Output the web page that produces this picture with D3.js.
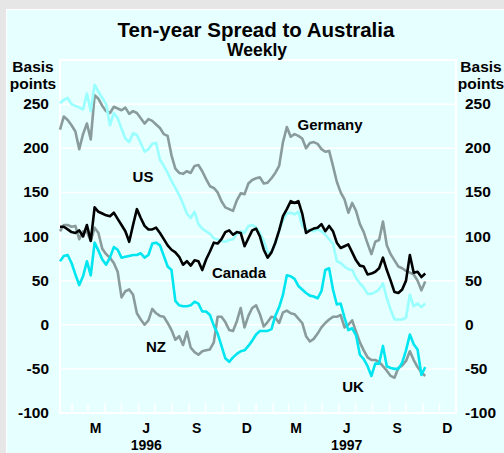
<!DOCTYPE html>
<html>
<head>
<meta charset="utf-8">
<script src="https://cdn.jsdelivr.net/npm/d3@7"></script>
<style>
  html, body { margin: 0; padding: 0; background: #e6e6e6; }
  svg { display: block; }
  text { font-family: "Liberation Sans", Arial, Helvetica, sans-serif; font-weight: bold; fill: #000; }
</style>
</head>
<body>
<script>
'use strict';

// weekly observations, basis points
var firstWeek = new Date(1996, 0, 10);

var us = [251, 255, 257, 250, 248, 246, 244, 262, 242, 272, 264, 257, 250, 226, 240, 234,
    222, 211, 207, 217, 215, 206, 196, 199, 205, 206, 187, 180, 172, 163, 155, 147,
    137, 126, 121, 128, 114, 109, 106, 103, 98, 97, 95, 94, 96, 97, 103, 106,
    104, 112, 113, 110, 104, 95, 82, 82, 92, 107, 119, 126, 127, 125, 128, 112,
    108, 107, 106, 108, 106, 102, 97, 92, 72, 70, 66, 63, 62, 53, 47, 42,
    35, 35, 37, 40, 47, 30, 17, 6, 6, 6, 8, 34, 21, 24, 20, 24];

var germany = [221, 236, 232, 226, 219, 199, 216, 228, 210, 260, 256, 248, 242, 240, 247, 245,
    243, 246, 239, 242, 240, 234, 228, 233, 231, 227, 223, 216, 214, 192, 177, 172,
    171, 174, 172, 180, 181, 174, 165, 157, 155, 150, 140, 133, 131, 129, 141, 149,
    148, 160, 164, 166, 167, 160, 161, 166, 172, 180, 207, 224, 213, 216, 214, 211,
    200, 206, 207, 205, 199, 196, 197, 180, 162, 150, 142, 127, 138, 129, 114, 105,
    92, 80, 94, 96, 117, 90, 80, 73, 66, 64, 61, 59, 57, 50, 39, 49];

var canada = [111, 111, 108, 105, 104, 107, 100, 113, 95, 133, 128, 126, 124, 123, 127, 120,
    113, 106, 94, 113, 131, 121, 112, 108, 108, 110, 104, 97, 90, 85, 82, 77,
    68, 72, 67, 73, 72, 62, 74, 83, 93, 92, 97, 105, 107, 102, 105, 104,
    89, 98, 107, 109, 100, 85, 76, 82, 93, 107, 123, 131, 140, 138, 140, 126,
    104, 107, 109, 110, 114, 106, 112, 106, 93, 87, 89, 91, 82, 73, 67, 66,
    57, 58, 60, 64, 76, 62, 50, 37, 36, 40, 50, 79, 59, 60, 54, 58];

var nz = [106, 113, 113, 111, 112, 97, 106, 105, 95, 110, 104, 86, 80, 76, 70, 60,
    31, 38, 40, 34, 13, 6, 0, 5, 18, 13, 10, 9, 2, -6, -17, -13,
    -23, -8, -26, -31, -34, -30, -29, -28, -20, 9, 9, 3, -6, -7, 4, 19,
    -3, 10, 19, 22, 12, -2, 3, 9, 8, 2, 14, 16, 13, 12, 7, 2,
    -13, -19, -16, -10, -3, 2, 6, 9, 9, 11, -3, 0, 5, -8, -20, -29,
    -37, -40, -40, -42, -47, -52, -58, -60, -49, -46, -41, -30, -40, -48, -54, -58];

var uk = [72, 78, 79, 70, 57, 45, 55, 72, 56, 93, 84, 74, 68, 76, 88, 85,
    76, 77, 78, 79, 79, 81, 76, 79, 92, 93, 90, 78, 66, 62, 27, 22,
    21, 21, 22, 26, 24, 15, 15, 11, -1, -10, -24, -38, -42, -37, -33, -30,
    -29, -24, -18, -11, -7, -7, -7, -5, 10, 20, 34, 56, 55, 52, 44, 40,
    36, 33, 32, 30, 38, 62, 64, 40, 23, 24, 8, -6, -4, -12, -34, -39,
    -47, -58, -44, -44, -24, -47, -49, -50, -50, -43, -29, -11, -22, -28, -57, -48];

var seriesNames = ['Germany', 'US', 'NZ', 'UK', 'Canada'];
var seriesValues = [germany, us, nz, uk, canada];
var seriesColors = ['#8a9b9b', '#99ffff', '#8a9b9b', '#00e6f0', '#000000'];

var yTicks = [-100, -50, 0, 50, 100, 150, 200, 250];
var quarterLabels = ['M', 'J', 'S', 'D', 'M', 'J', 'S', 'D'];
var quarterMonths = [new Date(1996, 2, 1), new Date(1996, 5, 1), new Date(1996, 8, 1), new Date(1996, 11, 1),
    new Date(1997, 2, 1), new Date(1997, 5, 1), new Date(1997, 8, 1), new Date(1997, 11, 1)];
var yearLabels = ['1996', '1997'];
var yearMonths = [new Date(1996, 5, 1), new Date(1997, 5, 1)];

var labelText = ['US', 'Germany', 'Canada', 'NZ', 'UK'];
var labelAt = [[143, 182], [330, 130], [239, 278], [156, 352], [353, 392]];

var width = 504;
var height = 453;
var plot = { left: 60, right: 456, top: 60, bottom: 413 };

var dates = us.map(function (d, i) { return d3.timeDay.offset(firstWeek, 7 * i); });

var x = d3.scaleTime()
    .domain([new Date(1996, 0, 10), new Date(1997, 11, 31)])
    .range([plot.left, plot.right]);

var y = d3.scaleLinear()
    .domain([-100, 300])
    .range([plot.bottom, plot.top]);

var svg = d3.select('body').append('svg')
    .attr('width', width)
    .attr('height', height);

svg.append('rect')
    .attr('width', width).attr('height', height)
    .attr('fill', '#e6e6e6');

svg.append('rect')
    .attr('x', 6.5).attr('y', 9.5)
    .attr('width', width).attr('height', height)
    .attr('fill', '#e6ffff')
    .attr('stroke', '#ffffff');

// grid
svg.append('g')
    .selectAll('line')
    .data(d3.range(-50, 301, 50))
    .enter().append('line')
    .attr('x1', plot.left).attr('x2', plot.right)
    .attr('y1', function (d) { return y(d); })
    .attr('y2', function (d) { return y(d); })
    .attr('stroke', '#ffffff')
    .attr('stroke-width', 1.5);

svg.append('rect')
    .attr('x', plot.left).attr('y', plot.top)
    .attr('width', plot.right - plot.left)
    .attr('height', plot.bottom - plot.top)
    .attr('fill', 'none')
    .attr('stroke', '#ffffff')
    .attr('stroke-width', 2);

// month ticks
svg.append('g')
    .selectAll('line')
    .data(d3.timeMonth.range(new Date(1996, 1, 1), new Date(1997, 11, 2)))
    .enter().append('line')
    .attr('x1', function (d) { return x(d); })
    .attr('x2', function (d) { return x(d); })
    .attr('y1', plot.bottom)
    .attr('y2', plot.bottom - 10)
    .attr('stroke', '#ffffff')
    .attr('stroke-width', 1.5);

// lines
var line = d3.line()
    .x(function (d, i) { return x(dates[i]); })
    .y(function (d) { return y(d); });

svg.append('g')
    .selectAll('path')
    .data(seriesValues)
    .enter().append('path')
    .attr('d', line)
    .attr('fill', 'none')
    .attr('stroke', function (d, i) { return seriesColors[i]; })
    .attr('stroke-width', 2.6)
    .attr('stroke-linejoin', 'round');

// y tick labels
svg.append('g')
    .selectAll('text')
    .data(yTicks)
    .enter().append('text')
    .attr('x', 49)
    .attr('y', function (d) { return y(d) + 5; })
    .attr('text-anchor', 'end')
    .style('font-size', '15.5px')
    .text(function (d) { return d; });

svg.append('g')
    .selectAll('text')
    .data(yTicks)
    .enter().append('text')
    .attr('x', 465)
    .attr('y', function (d) { return y(d) + 5; })
    .attr('text-anchor', 'start')
    .style('font-size', '15.5px')
    .text(function (d) { return d; });

[33, 481].forEach(function (cx) {
    svg.append('text').attr('x', cx).attr('y', 72)
        .attr('text-anchor', 'middle').style('font-size', '15.5px').text('Basis');
    svg.append('text').attr('x', cx).attr('y', 89)
        .attr('text-anchor', 'middle').style('font-size', '15.5px').text('points');
});

// x labels
svg.append('g')
    .selectAll('text')
    .data(quarterMonths)
    .enter().append('text')
    .attr('x', function (d) { return x(d3.timeDay.offset(d, 14)); })
    .attr('y', 433)
    .attr('text-anchor', 'middle')
    .style('font-size', '14px')
    .text(function (d, i) { return quarterLabels[i]; });

svg.append('g')
    .selectAll('text')
    .data(yearMonths)
    .enter().append('text')
    .attr('x', function (d) { return x(d3.timeDay.offset(d, 14)); })
    .attr('y', 449.5)
    .attr('text-anchor', 'middle')
    .style('font-size', '14px')
    .text(function (d, i) { return yearLabels[i]; });

// series labels
svg.append('g')
    .selectAll('text')
    .data(labelText)
    .enter().append('text')
    .attr('x', function (d, i) { return labelAt[i][0]; })
    .attr('y', function (d, i) { return labelAt[i][1]; })
    .attr('text-anchor', 'middle')
    .style('font-size', '15px')
    .text(function (d) { return d; });

// titles
svg.append('text')
    .attr('x', 256).attr('y', 37)
    .attr('text-anchor', 'middle')
    .style('font-size', '20.5px')
    .text('Ten-year Spread to Australia');

svg.append('text')
    .attr('x', 257).attr('y', 56)
    .attr('text-anchor', 'middle')
    .style('font-size', '17.5px')
    .text('Weekly');
</script>
</body>
</html>
